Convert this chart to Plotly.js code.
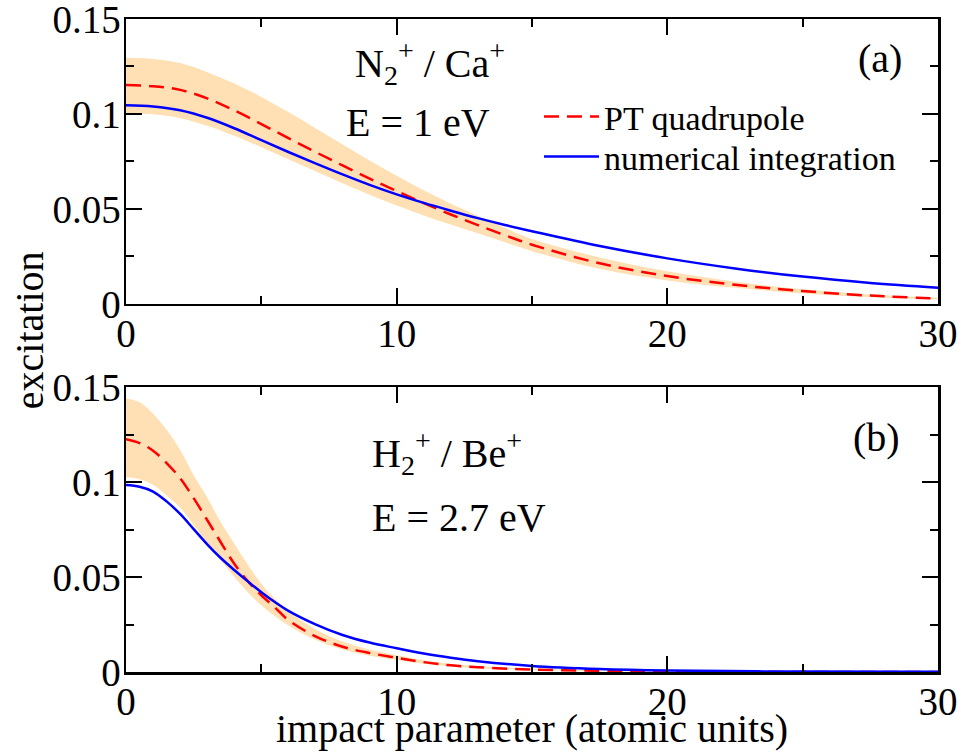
<!DOCTYPE html>
<html>
<head>
<meta charset="utf-8">
<script src="https://cdn.plot.ly/plotly-3.0.1.min.js"></script>
<style>html,body{margin:0;padding:0;background:#fff;}</style>
</head>
<body>
<div id="chart" style="width:963px;height:756px;"></div>
<script>
// ---- Panel (a): N2+ / Ca+, E = 1 eV ----
const xA = [0,1,2,3,4,5,6,7,8,9,10,11,12,13,14,15,17.5,20,22.5,25,27.5,30];
const ptA = [0.1152,0.1146,0.1127,0.1082,0.1019,0.0947,0.0873,0.0800,0.0729,0.0660,0.0594,0.0531,0.0471,0.0415,0.0362,0.0312,0.0214,0.0147,0.0101,0.0068,0.0044,0.0029];
const numA = [0.1046,0.1040,0.1020,0.0980,0.0925,0.0862,0.0800,0.0740,0.0682,0.0627,0.0577,0.0532,0.0491,0.0452,0.0416,0.0383,0.0305,0.0240,0.0187,0.0144,0.0111,0.0086];
const bandHiA = [0.1296,0.1290,0.1268,0.1220,0.1160,0.1090,0.1010,0.0925,0.0840,0.0755,0.0675,0.0598,0.0528,0.0465,0.0400,0.0342,0.0245,0.0172,0.0117,0.0077,0.0050,0.0033];
const bandLoA = [0.1004,0.0998,0.0978,0.0938,0.0885,0.0825,0.0762,0.0698,0.0635,0.0575,0.0518,0.0466,0.0418,0.0372,0.0325,0.0278,0.0185,0.0124,0.0085,0.0055,0.0035,0.0023];

// ---- Panel (b): H2+ / Be+, E = 2.7 eV ----
const xB = [0,0.5,1,1.5,2,2.5,3,3.5,4,4.5,5,5.5,6,7,8,9,10,11,12,13,15,17.5,20,25,30];
const ptB = [0.1225,0.1205,0.1165,0.1100,0.1020,0.0915,0.0800,0.0683,0.0570,0.0478,0.0404,0.0340,0.0273,0.0188,0.0133,0.0100,0.0075,0.0052,0.0035,0.0025,0.0013,0.0006,0.0002,0.00005,0.0];
const numB = [0.0984,0.0975,0.0950,0.0898,0.0832,0.0752,0.0672,0.0600,0.0537,0.0477,0.0420,0.0368,0.0322,0.0251,0.0195,0.0155,0.0125,0.0097,0.0075,0.0057,0.0032,0.0016,0.0008,0.0002,0.0001];
const bandHiB = [0.1440,0.1420,0.1360,0.1275,0.1170,0.1035,0.0918,0.0788,0.0676,0.0565,0.0465,0.0385,0.0320,0.0225,0.0160,0.0118,0.0088,0.0062,0.0044,0.0032,0.0017,0.0008,0.0003,0.0001,0.0];
const bandLoB = [0.1025,0.1015,0.0985,0.0930,0.0865,0.0775,0.0680,0.0590,0.0500,0.0420,0.0350,0.0295,0.0245,0.0170,0.0118,0.0085,0.0063,0.0043,0.0029,0.0020,0.0010,0.0004,0.0001,0.0,0.0];

const seriesNames = ["PT quadrupole", "numerical integration"];
const xTicks = [0,10,20,30];
const yTicks = [0,0.05,0.1,0.15];
const yTickText = ["0","0.05","0.1","0.15"];

const FONT = "Liberation Serif";
const bandColor = "rgb(255,224,180)";
const redC = "#ff0000", blueC = "#0000ff";

function bandTraces(x, lo, hi, xa, ya) {
  return [
    {x: x, y: lo, xaxis: xa, yaxis: ya, mode: "lines", line: {width: 0, color: bandColor, shape: "spline"}, showlegend: false, hoverinfo: "skip"},
    {x: x, y: hi, xaxis: xa, yaxis: ya, mode: "lines", line: {width: 0, color: bandColor, shape: "spline"}, fill: "tonexty", fillcolor: bandColor, showlegend: false, hoverinfo: "skip"}
  ];
}

const data = [].concat(
  bandTraces(xA, bandLoA, bandHiA, "x", "y"),
  [{x: xA, y: ptA, xaxis: "x", yaxis: "y", mode: "lines", name: seriesNames[0], line: {color: redC, width: 2.5, dash: "15px,8px", shape: "spline"}, legend: "legend", showlegend: true},
   {x: xA, y: numA, xaxis: "x", yaxis: "y", mode: "lines", name: seriesNames[1], line: {color: blueC, width: 2.5, shape: "spline"}, legend: "legend2", showlegend: true}],
  bandTraces(xB, bandLoB, bandHiB, "x2", "y2"),
  [{x: xB, y: ptB, xaxis: "x2", yaxis: "y2", mode: "lines", name: seriesNames[0], line: {color: redC, width: 2.5, dash: "15px,8px", shape: "spline"}, showlegend: false},
   {x: xB, y: numB, xaxis: "x2", yaxis: "y2", mode: "lines", name: seriesNames[1], line: {color: blueC, width: 2.5, shape: "spline"}, showlegend: false}]
);

function xAxis(anchor) {
  return {
    anchor: anchor, range: [0, 30], tickvals: xTicks, ticktext: xTicks.map(String),
    ticks: "inside", ticklen: 16, tickwidth: 2, tickcolor: "#000",
    minor: {dtick: 5, tick0: 0, ticks: "inside", ticklen: 8, tickwidth: 2, tickcolor: "#000"},
    showline: true, linecolor: "#000", linewidth: 2.5, mirror: "ticks",
    showgrid: false, zeroline: false, ticklabelstandoff: -6, ticklabeloverflow: "allow",
    tickfont: {family: FONT, size: 39, color: "#000"}
  };
}
function yAxis(anchor, domain) {
  return {
    anchor: anchor, domain: domain, range: [0, 0.15], tickvals: yTicks, ticktext: yTickText,
    ticks: "inside", ticklen: 16, tickwidth: 2, tickcolor: "#000",
    minor: {dtick: 0.025, tick0: 0, ticks: "inside", ticklen: 8, tickwidth: 2, tickcolor: "#000"},
    showline: true, linecolor: "#000", linewidth: 2.5, mirror: "ticks",
    showgrid: false, zeroline: false, ticklabelstandoff: -5, ticklabeloverflow: "allow",
    tickfont: {family: FONT, size: 39, color: "#000"}
  };
}

const tf = {family: FONT, size: 40, color: "#000"};
const lf = {family: FONT, size: 34, color: "#000"};
const layout = {
  width: 963, height: 756,
  margin: {l: 126, r: 25, t: 19, b: 84},
  paper_bgcolor: "#fff", plot_bgcolor: "#fff",
  font: tf,
  xaxis: xAxis("y"), yaxis: yAxis("x", [0.5636, 1]),
  xaxis2: xAxis("y2"), yaxis2: yAxis("x2", [0, 0.4364]),
  legend: {x: 0.5086, y: 0.85, xanchor: "left", yanchor: "middle", bgcolor: "rgba(0,0,0,0)", borderwidth: 0, font: lf, itemwidth: 55},
  legend2: {x: 0.5086, y: 0.789, xanchor: "left", yanchor: "middle", bgcolor: "rgba(0,0,0,0)", borderwidth: 0, font: lf, itemwidth: 55},
  annotations: [
    {xref: "x", yref: "y", x: 8.39, y: 0.1266, xanchor: "left", yanchor: "middle", showarrow: false, text: "N<sub>2</sub><sup>+</sup> / Ca<sup>+</sup>", font: tf},
    {xref: "x", yref: "y", x: 8.06, y: 0.0955, xanchor: "left", yanchor: "middle", showarrow: false, text: "E = 1 eV", font: tf},
    {xref: "x", yref: "y", x: 28.74, y: 0.129, xanchor: "right", yanchor: "middle", showarrow: false, text: "(a)", font: tf},
    {xref: "x2", yref: "y2", x: 9.0, y: 0.1153, xanchor: "left", yanchor: "middle", showarrow: false, text: "H<sub>2</sub><sup>+</sup> / Be<sup>+</sup>", font: tf},
    {xref: "x2", yref: "y2", x: 9.0, y: 0.0813, xanchor: "left", yanchor: "middle", showarrow: false, text: "E = 2.7 eV", font: tf},
    {xref: "x2", yref: "y2", x: 28.67, y: 0.1234, xanchor: "right", yanchor: "middle", showarrow: false, text: "(b)", font: tf},
    {xref: "paper", yref: "paper", x: -0.119, y: 0.524, xanchor: "center", yanchor: "middle", textangle: -90, showarrow: false, text: "excitation", font: tf},
    {xref: "paper", yref: "paper", x: 0.5, y: -0.0858, xanchor: "center", yanchor: "middle", showarrow: false, text: "impact parameter (atomic units)", font: tf}
  ]
};

Plotly.newPlot("chart", data, layout, {displayModeBar: false, staticPlot: true});
</script>
</body>
</html>
